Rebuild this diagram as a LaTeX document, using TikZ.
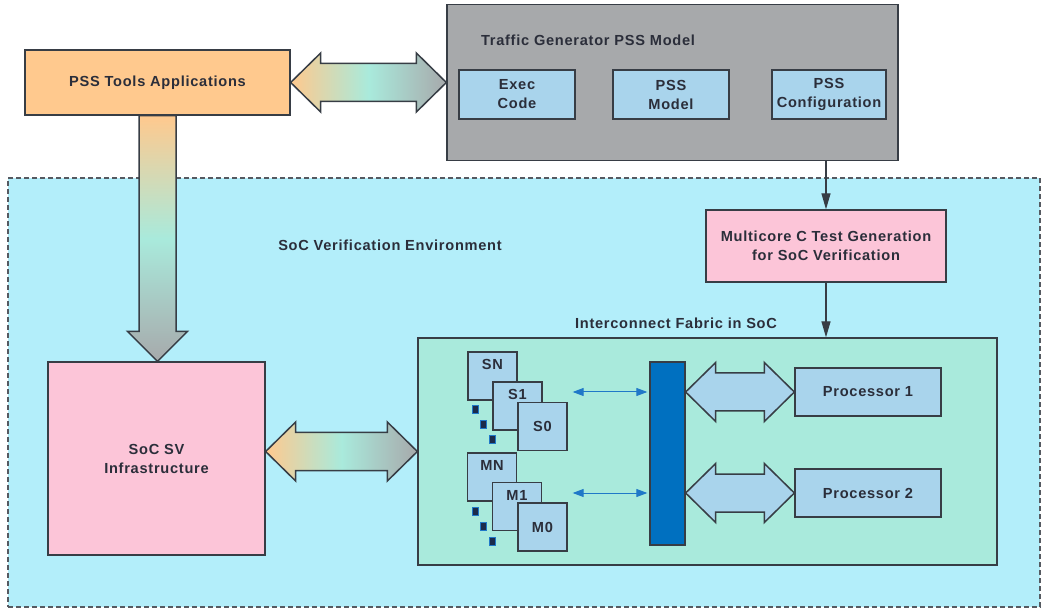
\documentclass[tikz,border=0pt]{standalone}
\usepackage{fontspec}
\setmainfont{Liberation Sans}[LetterSpace=5]
\usepackage{tikz}
\usetikzlibrary{positioning, arrows.meta, calc}
\definecolor{edgegray}{HTML}{373D45}
\definecolor{inkdark}{HTML}{2B2E3A}
\definecolor{psorange}{HTML}{FFC98E}
\definecolor{genegray}{HTML}{A7A9AB}
\definecolor{cardblue}{HTML}{A9D4EC}
\definecolor{envcyan}{HTML}{B3EEFA}
\definecolor{fabmint}{HTML}{A9EADC}
\definecolor{socpink}{HTML}{FCC5D8}
\definecolor{busblue}{HTML}{0070C0}
\definecolor{linkblue}{HTML}{1F78C8}
\definecolor{dotnavy}{HTML}{1B2B4B}

% fat double arrow: style, left tip, right tip
\newcommand{\fatdouble}[3]{%
  \path[#1] (#2) -- ++(30pt,29.5pt) -- ++(0pt,-10.5pt) -- ($(#3)+(-30pt,19pt)$)
    -- ++(0pt,10.5pt) -- (#3) -- ++(-30pt,-29.5pt) -- ++(0pt,10.5pt)
    -- ($(#2)+(30pt,-19pt)$) -- ++(0pt,-10.5pt) -- cycle;}
% fat single arrow pointing down: style, start, tip
\newcommand{\fatdown}[3]{%
  \path[#1] ($(#2)+(-18.5pt,0pt)$) -- ($(#3)+(-18.5pt,30pt)$) -- ++(-11.5pt,0pt)
    -- (#3) -- ++(30pt,30pt) -- ++(-11.5pt,0pt) -- ($(#2)+(18.5pt,0pt)$) -- cycle;}

\begin{document}
\begin{tikzpicture}[x=1pt, y=-1pt,
    font=\fontsize{14.6}{19}\selectfont\bfseries, text=inkdark,
    box/.style={draw=edgegray, line width=1.3pt, align=center, inner sep=2pt},
    card/.style={box, fill=cardblue},
    stackcard/.style={card, minimum width=49pt, minimum height=48pt},
    dotmark/.style={draw=linkblue, fill=dotnavy, line width=1pt, minimum width=6pt, minimum height=8pt, inner sep=0pt},
    flow/.style={draw=edgegray, line width=1.3pt, -{Triangle[length=16pt,width=9pt]}},
    thinarr/.style={draw=linkblue, line width=1pt, {Triangle[length=11pt,width=8pt]}-{Triangle[length=11pt,width=8pt]}},
    rainbow/.style={draw=edgegray, line width=1.5pt, left color=psorange, right color=genegray, middle color=fabmint},
    rainbowdown/.style={draw=edgegray, line width=1.5pt, top color=psorange, bottom color=genegray, middle color=fabmint},
    plainfat/.style={draw=edgegray, line width=1.5pt, fill=cardblue}]
  \useasboundingbox (0,0) rectangle (1045,612);

  % verification environment
  \node[box, draw=edgegray!85, dashed, dash pattern=on 5pt off 3pt, fill=envcyan,
        minimum width=1032pt, minimum height=429pt] (env) at (524,392.5) {};
  \node (envtitle) at (390,245) {SoC Verification Environment};

  % PSS side
  \node[box, fill=psorange, minimum width=265pt, minimum height=65pt] (tools) at (157.5,82.5) {PSS Tools Applications};
  \node[box, fill=genegray, minimum width=451pt, minimum height=156pt] (tgen) at (672.5,82.5) {};
  \node (tgentitle) at (588,40) {Traffic Generator PSS Model};
  \node[card, minimum width=116pt, minimum height=49pt] (exec) at (517,94.5) {Exec\\Code};
  \node[card, minimum width=116pt, minimum height=49pt] (pssmodel) at (671,94.5) {PSS\\Model};
  \node[card, minimum width=114pt, minimum height=49pt] (psscfg) at (829,94.5) {PSS\\Configuration};

  \coordinate (tgentip) at (tgen.west |- tools.east);
  \fatdouble{rainbow}{tools.east}{tgentip}

  % SoC side
  \node[box, fill=socpink, minimum width=217pt, minimum height=193pt] (infra) at (156.5,458.5) {SoC SV\\Infrastructure};
  \coordinate (downtip) at (tools.south |- infra.north);
  \fatdown{rainbowdown}{tools.south}{downtip}

  \node[box, fill=socpink, minimum width=240pt, minimum height=72pt] (multi) at (826,246) {Multicore C Test Generation\\for SoC Verification};
  \node[box, fill=fabmint, minimum width=579pt, minimum height=227pt] (fabric) at (707.5,451.5) {};
  \node (fabtitle) at (676,323) {Interconnect Fabric in SoC};

  \draw[flow] (multi.north |- tgen.south) -- (multi.north);
  \draw[flow] (multi.south) -- (multi.south |- fabric.north);

  \coordinate (infratip) at (infra.east |- fabric.west);
  \fatdouble{rainbow}{infratip}{fabric.west}

  % inside the fabric
  \node[draw=edgegray, line width=1.3pt, fill=busblue, minimum width=35pt, minimum height=183pt] (bus) at (667.5,453.5) {};

  \node[stackcard, text depth=23pt] (SN) at (492.5,376) {SN};
  \node[stackcard, text depth=23pt] (S1) at (517.5,406) {S1};
  \node[stackcard] (S0) at (542.5,426.5) {S0};
  \node[dotmark] (sdot1) at (475,410) {};
  \node[dotmark] (sdot2) at (483,425) {};
  \node[dotmark] (sdot3) at (492,440) {};

  \node[stackcard, text depth=23pt] (MN) at (492,477) {MN};
  \node[stackcard, text depth=23pt] (M1) at (517,506.5) {M1};
  \node[stackcard] (M0) at (542.5,527) {M0};
  \node[dotmark] (mdot1) at (475,511) {};
  \node[dotmark] (mdot2) at (483,526) {};
  \node[dotmark] (mdot3) at (492,541) {};

  \node[card, minimum width=146pt, minimum height=48pt] (proc1) at (868,392) {Processor 1};
  \node[card, minimum width=146pt, minimum height=48pt] (proc2) at (868,493) {Processor 2};

  \coordinate (sport) at ([xshift=5pt]S0.east |- proc1.west);
  \coordinate (mport) at ([xshift=5pt]M0.east |- proc2.west);
  \draw[thinarr, shorten >=2pt] (sport) -- (sport -| bus.west);
  \draw[thinarr, shorten >=2pt] (mport) -- (mport -| bus.west);

  \coordinate (bustip1) at (bus.east |- proc1.west);
  \coordinate (bustip2) at (bus.east |- proc2.west);
  \fatdouble{plainfat}{bustip1}{proc1.west}
  \fatdouble{plainfat}{bustip2}{proc2.west}
\end{tikzpicture}
\end{document}
